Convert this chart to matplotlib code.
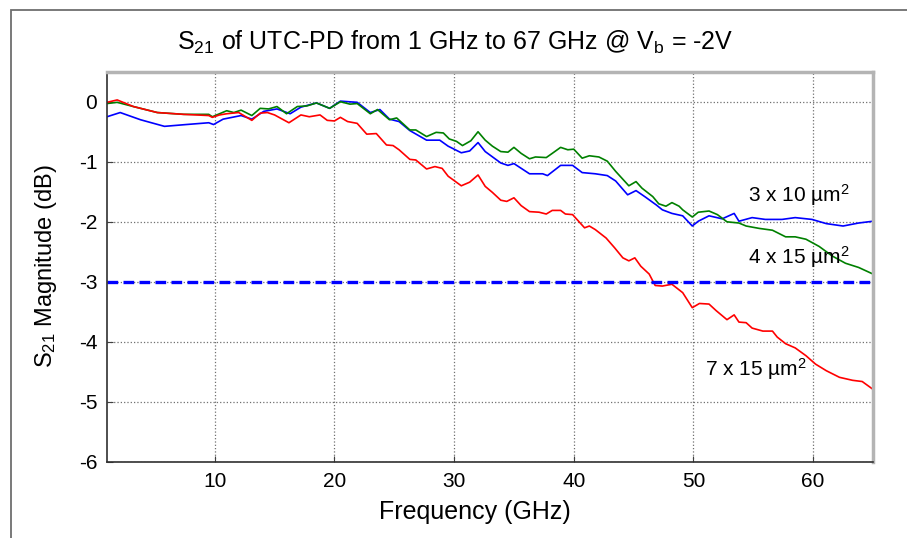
import matplotlib.pyplot as plt
import matplotlib.patches as patches
import numpy as np

# Police type Arial
plt.rcParams['font.family'] = ['Liberation Sans', 'DejaVu Sans']
plt.rcParams['mathtext.fontset'] = 'custom'
plt.rcParams['mathtext.rm'] = 'Liberation Sans'
plt.rcParams['mathtext.it'] = 'Liberation Sans'
plt.rcParams['axes.unicode_minus'] = False

pts_3x10 = [(1, -0.25), (2.1, -0.18), (3.8, -0.30), (5.8, -0.41), (7.6, -0.38), (9.5, -0.35),
            (9.9, -0.38), (10.7, -0.29), (12.2, -0.23), (13.1, -0.29), (14.1, -0.16), (15.2, -0.12),
            (16.3, -0.20), (17.2, -0.09), (18.5, -0.02), (19.6, -0.11), (20.5, 0.01), (21.9, -0.01),
            (23.0, -0.18), (23.8, -0.13), (24.6, -0.29), (25.4, -0.33), (26.3, -0.48), (27.7, -0.64),
            (28.8, -0.64), (29.5, -0.74), (30.6, -0.85), (31.3, -0.82), (32.0, -0.68), (32.6, -0.83),
            (33.9, -1.02), (34.5, -1.06), (35.0, -1.03), (36.3, -1.20), (37.4, -1.20), (37.8, -1.23),
            (38.9, -1.06), (39.9, -1.06), (40.7, -1.18), (41.8, -1.20), (42.8, -1.23), (43.5, -1.32),
            (44.5, -1.55), (45.2, -1.48), (46.0, -1.59), (46.9, -1.72), (47.4, -1.80), (48.2, -1.86),
            (49.1, -1.90), (49.9, -2.07), (50.4, -1.99), (51.3, -1.90), (52.4, -1.95), (53.4, -1.86),
            (53.8, -1.99), (54.9, -1.93), (56.0, -1.96), (57.4, -1.96), (58.5, -1.93), (59.9, -1.96),
            (61.1, -2.03), (62.5, -2.07), (63.8, -2.02), (65, -1.99)]

pts_4x15 = [(1, -0.03), (1.85, -0.01), (3.2, -0.08), (5.2, -0.18), (7.4, -0.21), (9.5, -0.21),
            (9.8, -0.25), (10.4, -0.20), (11.0, -0.15), (11.6, -0.18), (12.2, -0.14), (13.1, -0.23),
            (13.8, -0.11), (14.5, -0.12), (15.2, -0.08), (16.0, -0.20), (16.9, -0.08), (17.7, -0.07),
            (18.5, -0.02), (19.6, -0.11), (20.5, 0.00), (21.3, -0.04), (21.9, -0.03), (23.0, -0.20),
            (23.6, -0.13), (24.6, -0.30), (25.2, -0.27), (26.3, -0.47), (26.8, -0.47), (27.7, -0.58),
            (28.5, -0.51), (29.1, -0.52), (29.6, -0.62), (30.2, -0.66), (30.7, -0.73), (31.4, -0.65),
            (32.0, -0.50), (32.6, -0.64), (33.2, -0.74), (33.9, -0.83), (34.5, -0.84), (35.0, -0.76),
            (35.6, -0.86), (36.3, -0.95), (36.8, -0.92), (37.7, -0.93), (38.2, -0.86), (38.9, -0.76),
            (39.5, -0.80), (40.0, -0.79), (40.7, -0.94), (41.3, -0.90), (42.1, -0.92), (42.8, -0.99),
            (43.5, -1.16), (44.6, -1.40), (45.2, -1.33), (45.7, -1.44), (46.6, -1.58), (47.1, -1.70),
            (47.7, -1.74), (48.2, -1.68), (48.8, -1.74), (49.1, -1.80), (49.9, -1.92), (50.4, -1.84),
            (51.3, -1.82), (52.0, -1.88), (52.8, -2.00), (53.8, -2.02), (54.4, -2.07), (55.5, -2.11),
            (56.6, -2.14), (57.1, -2.19), (57.7, -2.25), (58.5, -2.25), (59.4, -2.29), (60.5, -2.41),
            (61.6, -2.57), (62.7, -2.69), (63.8, -2.76), (65, -2.87)]

pts_7x15 = [(1, -0.01), (1.85, 0.03), (3.2, -0.08), (5.2, -0.18), (7.4, -0.21), (9.5, -0.23),
            (9.8, -0.26), (10.4, -0.22), (11.0, -0.20), (12.0, -0.18), (13.1, -0.31), (13.8, -0.19),
            (14.4, -0.18), (15.0, -0.22), (16.2, -0.35), (17.2, -0.22), (17.9, -0.25), (18.8, -0.22),
            (19.4, -0.31), (20.0, -0.32), (20.5, -0.26), (21.1, -0.33), (21.9, -0.36), (22.7, -0.54),
            (23.5, -0.53), (24.35, -0.72), (24.9, -0.73), (25.4, -0.80), (26.3, -0.96), (26.8, -0.97),
            (27.7, -1.12), (28.4, -1.08), (29.0, -1.11), (29.5, -1.24), (30.6, -1.40), (31.3, -1.34),
            (32.0, -1.22), (32.6, -1.41), (33.2, -1.51), (33.9, -1.64), (34.4, -1.66), (35.0, -1.60),
            (35.6, -1.73), (36.3, -1.83), (37.1, -1.84), (37.7, -1.87), (38.2, -1.81), (38.9, -1.81),
            (39.3, -1.87), (39.9, -1.88), (40.4, -1.99), (40.9, -2.10), (41.3, -2.07), (41.8, -2.13),
            (42.7, -2.27), (43.4, -2.43), (44.1, -2.60), (44.6, -2.65), (45.1, -2.60), (45.6, -2.74),
            (46.3, -2.87), (46.8, -3.06), (47.4, -3.07), (48.2, -3.04), (49.1, -3.18), (49.9, -3.43),
            (50.5, -3.36), (51.3, -3.37), (51.9, -3.48), (52.8, -3.63), (53.4, -3.55), (53.8, -3.67),
            (54.4, -3.68), (54.9, -3.77), (55.8, -3.82), (56.6, -3.82), (57.0, -3.92), (57.7, -4.03),
            (58.5, -4.10), (59.4, -4.23), (60.2, -4.37), (61.1, -4.48), (62.2, -4.59), (63.3, -4.64),
            (64.1, -4.66), (65, -4.79)]

# Niveau -3 dB
niveau_3db = -3

f1, s1 = np.array(pts_3x10).T
f2, s2 = np.array(pts_4x15).T
f3, s3 = np.array(pts_7x15).T

fig = plt.figure(figsize=(9.07, 5.38), dpi=100)
ax = fig.add_axes([0.118, 0.1413, 0.8445, 0.7254])

# Cadre gris autour de la figure
cadre = patches.Rectangle((0.012, -0.2), 1.2, 0.2 + 0.981, transform=fig.transFigure,
                          fill=False, edgecolor='#6e6e6e', linewidth=1.3, clip_on=False)
fig.patches.append(cadre)

ax.plot(f1, s1, color='#0000ff', linewidth=1.2)
ax.plot(f2, s2, color='#008000', linewidth=1.2)
ax.plot(f3, s3, color='#ff0000', linewidth=1.2)
ax.axhline(niveau_3db, color='#0000ff', linewidth=2.4, linestyle=(0, (3.2, 1.6)))

ax.set_xlim(1, 65)
ax.set_ylim(-6, 0.5)
ax.set_xticks([10, 20, 30, 40, 50, 60])
ax.set_yticks([-6, -5, -4, -3, -2, -1, 0])
ax.grid(True, color='#707070', linestyle=':', linewidth=0.9)
ax.tick_params(direction='in', length=4, labelsize=15, pad=7, color='#404040')

# Bordure style matlab
ax.spines['left'].set_color('#303030')
ax.spines['bottom'].set_color('#303030')
ax.spines['left'].set_linewidth(1.2)
ax.spines['bottom'].set_linewidth(1.2)
ax.spines['top'].set_color('#b4b4b4')
ax.spines['right'].set_color('#b4b4b4')
ax.spines['top'].set_linewidth(2.5)
ax.spines['right'].set_linewidth(2.5)

# Etiquettes des courbes
ax.text(58.8, -1.56, r'3 x 10 µm$^2$', fontsize=15, ha='center', va='center')
ax.text(58.8, -2.59, r'4 x 15 µm$^2$', fontsize=15, ha='center', va='center')
ax.text(55.2, -4.45, r'7 x 15 µm$^2$', fontsize=15, ha='center', va='center')

fig.text(0.502, 1 - 42 / 538, r'S$_{21}$ of UTC-PD from 1 GHz to 67 GHz @ V$_b$ = -2V',
         fontsize=18, ha='center', va='center')
fig.text(0.524, 1 - 512 / 538, 'Frequency (GHz)', fontsize=18, ha='center', va='center')
fig.text(46 / 907, 1 - 266 / 538, r'S$_{21}$ Magnitude (dB)', fontsize=17, ha='center',
         va='center', rotation=90)

plt.savefig('out.png', dpi=100)
